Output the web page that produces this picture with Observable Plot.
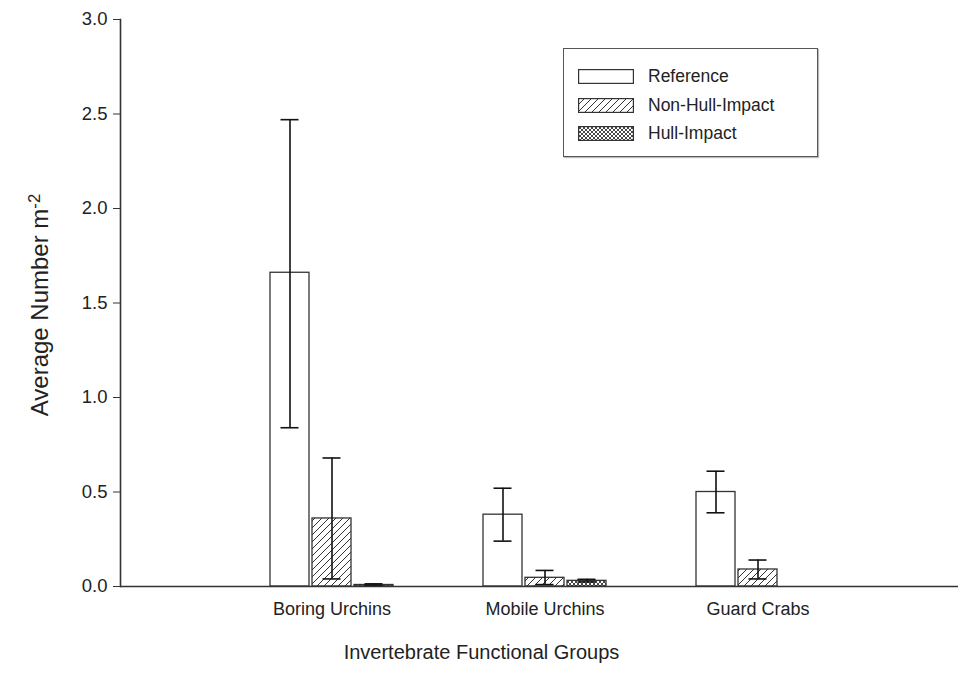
<!DOCTYPE html>
<html><head><meta charset="utf-8">
<script src="https://cdn.jsdelivr.net/npm/d3@7"></script>
<script src="https://cdn.jsdelivr.net/npm/@observablehq/plot@0.6"></script>
<style>
body{margin:0;background:#fff;font-family:"Liberation Sans",Arial,sans-serif;}
#wrap{position:relative;width:958px;height:673px;}
#legend{position:absolute;left:563px;top:48px;width:255px;height:109px;border:1px solid #555;box-sizing:border-box;background:#fff;box-shadow:1px 1px 1px #bbb;}
.row{position:absolute;left:14px;height:16px;display:flex;align-items:center;font-size:17.5px;color:#222;white-space:nowrap;}
.row svg{margin-right:14px;display:block;}
</style>
</head><body>
<svg width="0" height="0" style="position:absolute">
  <defs>
    <pattern id="hatch" patternUnits="userSpaceOnUse" width="7" height="7">
      <path d="M-1,1 l2,-2 M0,7 l7,-7 M6,8 l2,-2" stroke="#333" stroke-width="1"/>
    </pattern>
    <pattern id="cross" patternUnits="userSpaceOnUse" width="4" height="4">
      <path d="M-1,1 l2,-2 M0,4 l4,-4 M3,5 l2,-2 M-1,3 l2,2 M0,0 l4,4 M3,-1 l2,2" stroke="#333" stroke-width="0.9"/>
    </pattern>
  </defs>
</svg>
<div id="wrap"></div>
<script>
const groups = ["Boring Urchins", "Mobile Urchins", "Guard Crabs"];
const series = ["Reference", "Non-Hull-Impact", "Hull-Impact"];
const refMean = [1.66, 0.38, 0.50];
const refLo   = [0.84, 0.24, 0.39];
const refHi   = [2.47, 0.52, 0.61];
const nonMean = [0.36, 0.046, 0.09];
const nonLo   = [0.04, 0.01, 0.04];
const nonHi   = [0.68, 0.085, 0.14];
const hullMean = [0.008, 0.03, 0];
const hullLo   = [0.004, 0.024, 0];
const hullHi   = [0.014, 0.038, 0];
const yTicks = [0, 0.5, 1.0, 1.5, 2.0, 2.5, 3.0];
const yLabel = "Average Number m";
const xLabel = "Invertebrate Functional Groups";
const fills = ["white", "url(#hatch)", "url(#cross)"];

const means = [refMean, nonMean, hullMean];
const los = [refLo, nonLo, hullLo];
const his = [refHi, nonHi, hullHi];
const rows = [];
series.forEach((s, si) => groups.forEach((g, gi) => {
  rows.push({group: g, series: s, mean: means[si][gi], lo: los[si][gi], hi: his[si][gi]});
}));

const marks = [];
series.forEach((s, i) => {
  const d = rows.filter(r => r.series === s);
  const dx = (i - 1) * 42;
  marks.push(Plot.barY(d, {x: "group", y: "mean", fill: fills[i], stroke: "#333", strokeWidth: 1.3, dx}));
  const e = d.filter(r => r.hi > r.lo);
  marks.push(Plot.ruleX(e, {x: "group", y1: "lo", y2: "hi", stroke: "#111", strokeWidth: 1.6, dx}));
  marks.push(Plot.tickY(e, {x: "group", y: "hi", stroke: "#111", strokeWidth: 1.6, dx, insetLeft: 10.5, insetRight: 10.5}));
  marks.push(Plot.tickY(e, {x: "group", y: "lo", stroke: "#111", strokeWidth: 1.6, dx, insetLeft: 10.5, insetRight: 10.5}));
});

const chart = Plot.plot({
  width: 958, height: 673,
  marginLeft: 120, marginRight: 0, marginTop: 19, marginBottom: 87,
  style: {fontFamily: '"Liberation Sans", Arial, sans-serif', fontSize: "18px", color: "#222", background: "white"},
  x: {domain: groups, paddingInner: 0.817, paddingOuter: 0.8755, align: 0.515, label: null},
  y: {domain: [0, 3], label: null},
  marks: [
    ...marks,
    Plot.ruleY([0], {stroke: "#333", strokeWidth: 1.6}),
    Plot.frame({anchor: "left", stroke: "#333", strokeWidth: 1.6}),
    Plot.axisY({ticks: yTicks, tickFormat: d3.format(".1f"), tickSize: 7, tickPadding: 6, stroke: "#333", fontSize: 18.5, label: null}),
    Plot.axisX({tickSize: 0, tickPadding: 16, fontSize: 18, label: null}),
    Plot.text([yLabel], {text: d => d, frameAnchor: "left", rotate: -90, dx: -80, dy: 2, fontSize: 24, fill: "#222", textAnchor: "middle"}),
    Plot.text([xLabel], {text: d => d, frameAnchor: "bottom", dx: -58, dy: 72, fontSize: 20, fill: "#222", textAnchor: "middle"})
  ]
});

// superscript for y label
d3.select(chart).selectAll("text").filter(function() { return this.textContent === yLabel; })
  .each(function() {
    const t = d3.select(this);
    t.append("tspan").attr("dy", "-0.5em").attr("font-size", "0.7em").text("-2");
  });

const wrap = document.getElementById("wrap");
wrap.appendChild(chart);

const legend = document.createElement("div");
legend.id = "legend";
const tops = [19, 48, 76];
series.forEach((s, i) => {
  const row = document.createElement("div");
  row.className = "row";
  row.style.top = tops[i] + "px";
  row.innerHTML = `<svg width="56" height="15"><rect x="0.6" y="0.6" width="54.8" height="13.8" fill="${fills[i]}" stroke="#333" stroke-width="1.2"/></svg><span>${s}</span>`;
  legend.appendChild(row);
});
wrap.appendChild(legend);
</script>
</body></html>
